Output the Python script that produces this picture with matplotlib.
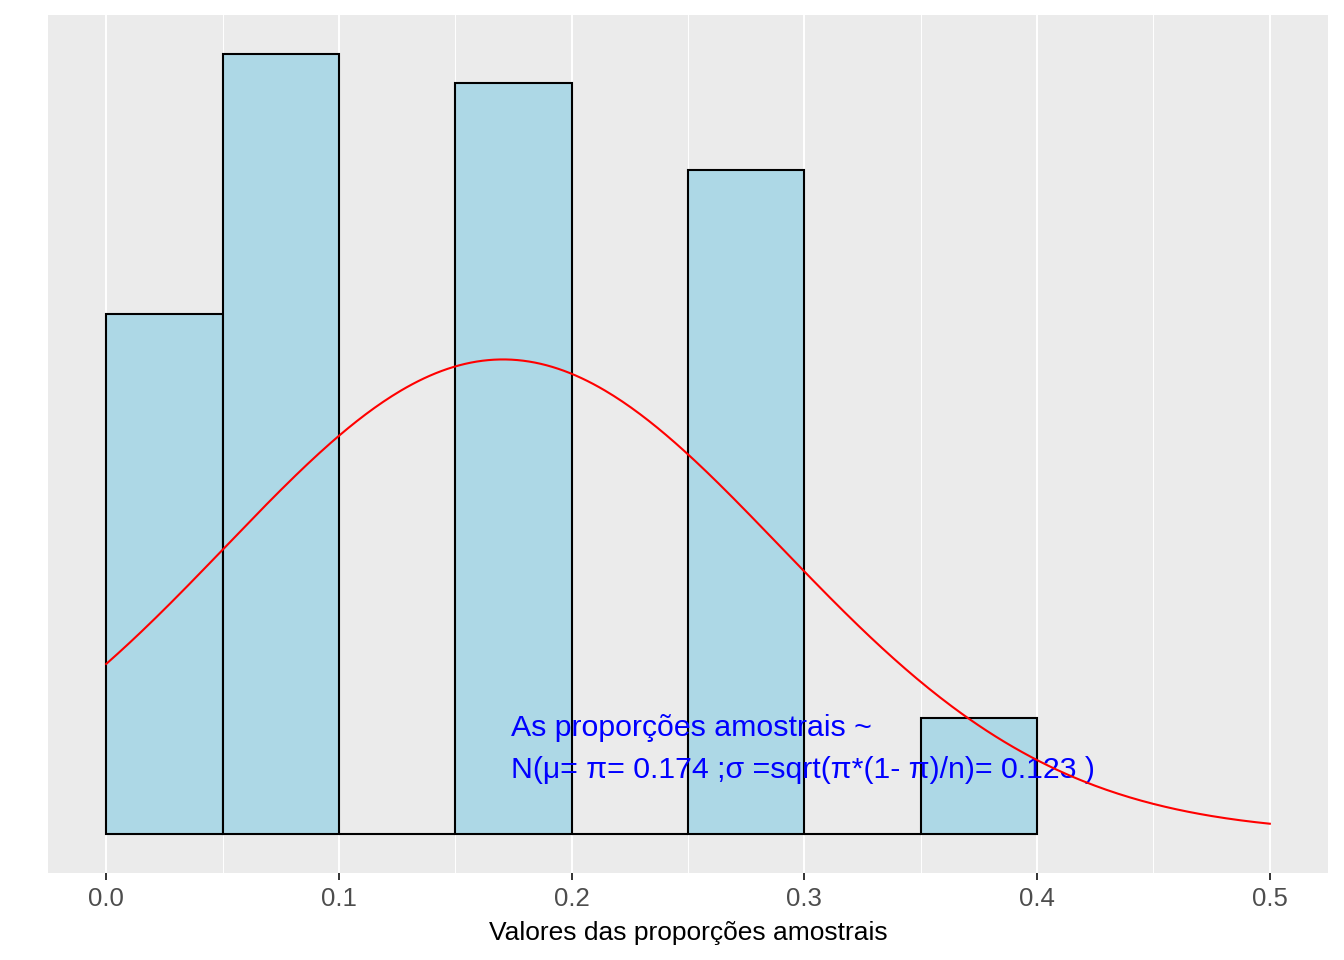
import numpy as np
import matplotlib.pyplot as plt

plt.rcParams['font.family'] = ['Liberation Sans', 'DejaVu Sans']

# histogram bins (proportions) and counts per bin
bin_edges = [0.0, 0.05, 0.10, 0.15, 0.20, 0.25, 0.30, 0.35, 0.40]
counts = [18, 27, 0, 26, 0, 23, 0, 4]

# normal curve drawn over the histogram
curve_mean = 0.1705
curve_sd = 0.119

x_ticks = [0.0, 0.1, 0.2, 0.3, 0.4, 0.5]
x_minor = [0.05, 0.15, 0.25, 0.35, 0.45]
label_x = 0.174
label_text = ('As proporções amostrais ~\n'
              'N(μ= π= 0.174 ;σ =sqrt(π*(1- π)/n)= 0.123 )')

fig = plt.figure(figsize=(13.44, 9.6), dpi=100)
ax = fig.add_axes([48/1344, 1-873/960, (1328-48)/1344, (873-15)/960])
ax.set_facecolor('#EBEBEB')

lefts = np.array(bin_edges[:-1])
widths = np.diff(bin_edges)
n = sum(counts)
dens = np.array(counts)/(n*widths)
ax.bar(lefts, dens, width=widths, align='edge', color='#ADD8E6',
       edgecolor='black', linewidth=1.5, zorder=2)

ax.text(label_x, 0.60, label_text, color='blue', fontsize=21.8, ha='left',
        va='center', linespacing=1.63, zorder=3)

xs = np.linspace(0, 0.5, 400)
ys = np.exp(-0.5*((xs-curve_mean)/curve_sd)**2)/(curve_sd*np.sqrt(2*np.pi))
ax.plot(xs, ys, color='red', linewidth=1.5, zorder=4)

ymax = dens.max()
ax.set_xlim(-0.025, 0.525)
ax.set_ylim(-0.05*ymax, 1.05*ymax)

ax.set_xticks(x_ticks)
ax.set_xticklabels(['%.1f' % t for t in x_ticks])
ax.set_xticks(x_minor, minor=True)
ax.grid(True, which='major', axis='x', color='white', linewidth=1.4, zorder=0)
ax.grid(True, which='minor', axis='x', color='white', linewidth=0.7, zorder=0)
ax.set_axisbelow(True)
ax.set_yticks([])
for s in ax.spines.values():
    s.set_visible(False)
ax.tick_params(axis='x', which='major', length=5, width=1.4, color='#333333',
               labelsize=18.5, labelcolor='#4D4D4D', pad=5)
ax.tick_params(axis='x', which='minor', length=0)
ax.set_xlabel('Valores das proporções amostrais', fontsize=19, color='black',
              labelpad=7)

fig.savefig('out.png', dpi=100)
